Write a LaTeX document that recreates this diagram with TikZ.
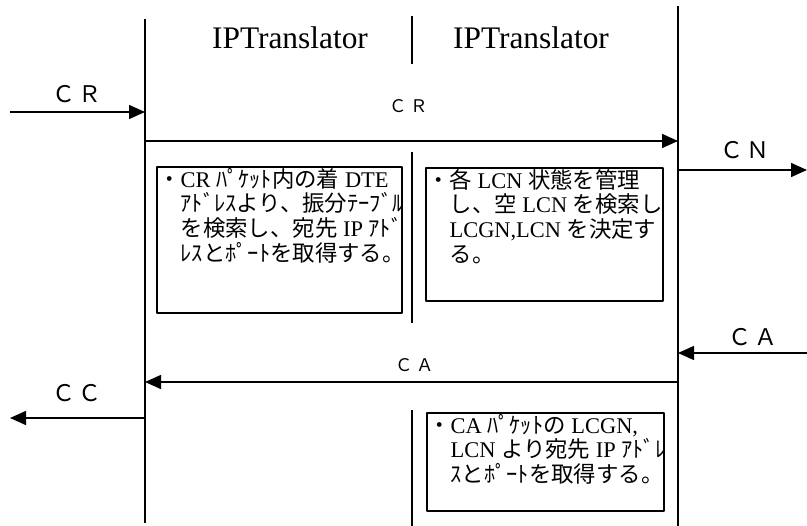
\documentclass[tikz,border=0pt]{standalone}
\usepackage{fontspec}
\setmainfont{Liberation Serif}
\newfontfamily\jp{Noto Sans CJK JP}
\usetikzlibrary{positioning,arrows.meta}
\newcommand{\J}[1]{{\jp #1}}
\newcommand{\pair}[2]{#1\hspace{4bp}#2}
\tikzset{
  msg/.style={->, line width=1.5bp},
  lifeline/.style={line width=1.8bp},
  memo/.style={draw, line width=1.8bp, inner sep=0pt, anchor=north west},
  memotext/.style={anchor=north west, inner sep=2bp, align=left, font=\fontsize{22.5}{24.7}\selectfont},
  biglabel/.style={font=\jp\fontsize{23}{23}\selectfont},
  smalllabel/.style={font=\jp\fontsize{17.5}{17.5}\selectfont},
  head/.style={font=\fontsize{31.5}{31.5}\selectfont}
}

\begin{document}
\begin{tikzpicture}[x=1bp, y=-1bp, >={Triangle[length=16bp,width=14bp]}, line join=bevel]
  \useasboundingbox (0,0) rectangle (807,526);
  % Lifelines
  \coordinate (lefttop) at (145,19);
  \coordinate (leftbot) at (145,523);
  \coordinate (righttop) at (678,6);
  \coordinate (rightbot) at (678,526);
  \coordinate (midatop) at (412,16);
  \coordinate (midabot) at (412,64);
  \coordinate (midbtop) at (412,152);
  \coordinate (midbbot) at (412,323);
  \coordinate (midctop) at (412,410);
  \coordinate (midcbot) at (412,526);
  \draw[lifeline] (lefttop) -- (leftbot);
  \draw[lifeline] (righttop) -- (rightbot);
  \draw[lifeline] (midatop) -- (midabot);
  \draw[lifeline] (midbtop) -- (midbbot);
  \draw[lifeline] (midctop) -- (midcbot);
  % Node: headings
  \node[head] (iptleft) at (290,38) {IPTranslator};
  \node[head] (iptright) at (531,38) {IPTranslator};
  % Edge: outside -> left (CR)
  \coordinate (crin) at (10,112);
  \coordinate (crinend) at (145,112);
  \draw[msg] (crin) -- (crinend);
  \node[biglabel] (crinlabel) at (77,94) {\pair{Ｃ}{Ｒ}};
  % Edge: left -> right (CR)
  \coordinate (crleft) at (145,141);
  \coordinate (crright) at (678,141);
  \draw[msg] (crleft) -- (crright);
  \node[smalllabel] (crlabel) at (409,106) {\pair{Ｃ}{Ｒ}};
  % Edge: right -> outside (CN)
  \coordinate (cnstart) at (678,170);
  \coordinate (cnout) at (807,170);
  \draw[msg] (cnstart) -- (cnout);
  \node[biglabel] (cnlabel) at (745,150) {\pair{Ｃ}{Ｎ}};
  % Edge: outside -> right (CA)
  \coordinate (cain) at (807,353);
  \coordinate (cainend) at (678,353);
  \draw[msg] (cain) -- (cainend);
  \node[biglabel] (cainlabel) at (753,337) {\pair{Ｃ}{Ａ}};
  % Edge: right -> left (CA)
  \coordinate (caright) at (678,382);
  \coordinate (caleft) at (145,382);
  \draw[msg] (caright) -- (caleft);
  \node[smalllabel] (calabel) at (415,365) {\pair{Ｃ}{Ａ}};
  % Edge: left -> outside (CC)
  \coordinate (ccstart) at (145,418);
  \coordinate (ccout) at (10,418);
  \draw[msg] (ccstart) -- (ccout);
  \node[biglabel] (cclabel) at (77,393) {\pair{Ｃ}{Ｃ}};
  % Node: memo boxes
  \node[memo, minimum width=245bp, minimum height=146bp] (boxleft) at (156,166) {};
  \node[memotext] (noteleft) at (boxleft.north west)
    {\J{・}CR \J{ﾊﾟｹｯﾄ内の着} DTE\\
     \J{\hphantom{・}ｱﾄﾞﾚｽより、振分ﾃｰﾌﾞﾙ}\\
     \J{\hphantom{・}を検索し、宛先} IP \J{ｱﾄﾞ}\\
     \J{\hphantom{・}ﾚｽとﾎﾟｰﾄを取得する。}};
  \node[memo, minimum width=237bp, minimum height=133bp] (boxright) at (425,167) {};
  \node[memotext] (noteright) at (boxright.north west)
    {\J{・各} LCN \J{状態を管理}\\
     \J{\hphantom{・}し、空} LCN \J{を検索し}\\
     \J{\hphantom{・}}LCGN,LCN \J{を決定す}\\
     \J{\hphantom{・}る。}};
  \node[memo, minimum width=237bp, minimum height=98bp] (boxbottom) at (426,412) {};
  \node[memotext] (notebottom) at (boxbottom.north west)
    {\J{・}CA \J{ﾊﾟｹｯﾄの} LCGN,\\
     \J{\hphantom{・}}LCN \J{より宛先} IP \J{ｱﾄﾞﾚ}\\
     \J{\hphantom{・}ｽとﾎﾟｰﾄを取得する。}};
\end{tikzpicture}
\end{document}
